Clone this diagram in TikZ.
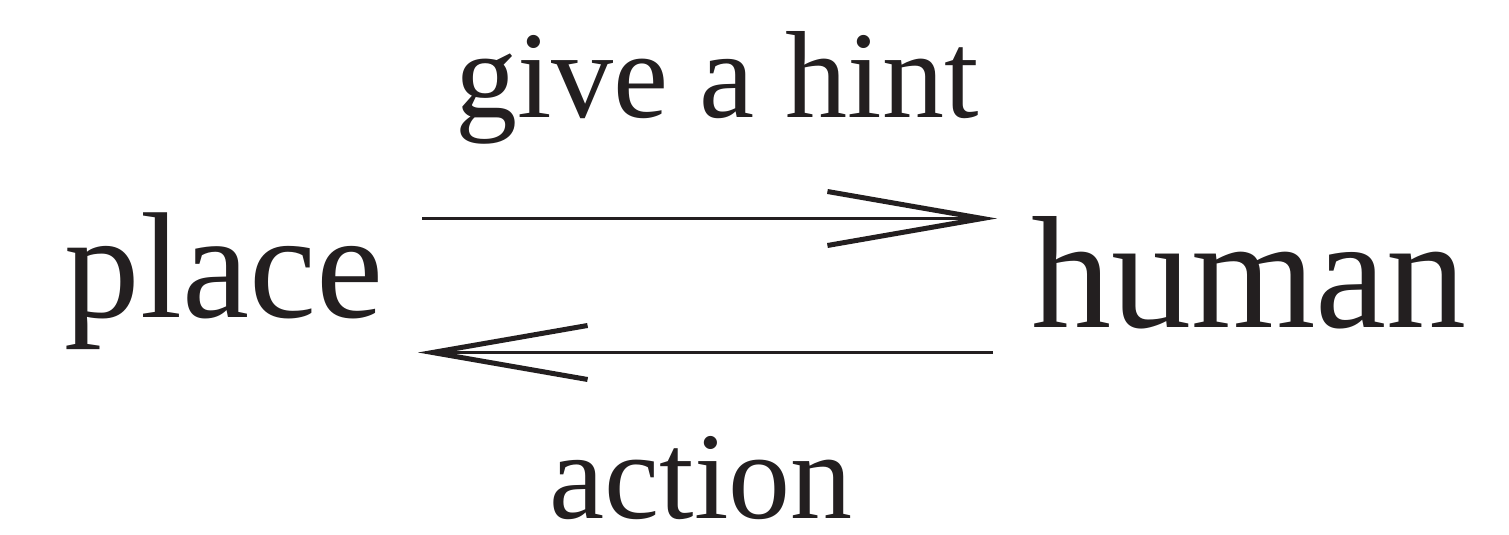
\documentclass[tikz,border=0pt]{standalone}
\usepackage{fontspec}
\setmainfont{Liberation Serif}
\usetikzlibrary{arrows.meta}
\definecolor{ink}{HTML}{231F20}
\begin{document}
\begin{tikzpicture}[x=1pt,y=1pt,
  word/.style={anchor=base,inner sep=0pt,text=ink,font=\fontsize{#1}{160}\selectfont},
  label/.style={anchor=base,inner sep=0pt,text=ink,font=\fontsize{124}{130}\selectfont},
  conn/.style={draw=ink,line width=3.8pt,-{Straight Barb[length=155pt,width=54pt,line width=5pt]}}]
\useasboundingbox (0,0) rectangle (1509,535);
\node[label] (hint) at (717,417) {give a hint};
\node[word=151] (place) at (224,217) {place};
\node[word=160] (human) at (1249,207) {human};
\node[label] (action) at (701,16) {action};
\coordinate (t1) at (422,316.5);
\coordinate (t2) at (997,316.5);
\coordinate (b1) at (993,182.5);
\coordinate (b2) at (418,182.5);
\draw[conn] (t1) -- (t2);
\draw[conn] (b1) -- (b2);
\end{tikzpicture}
\end{document}
